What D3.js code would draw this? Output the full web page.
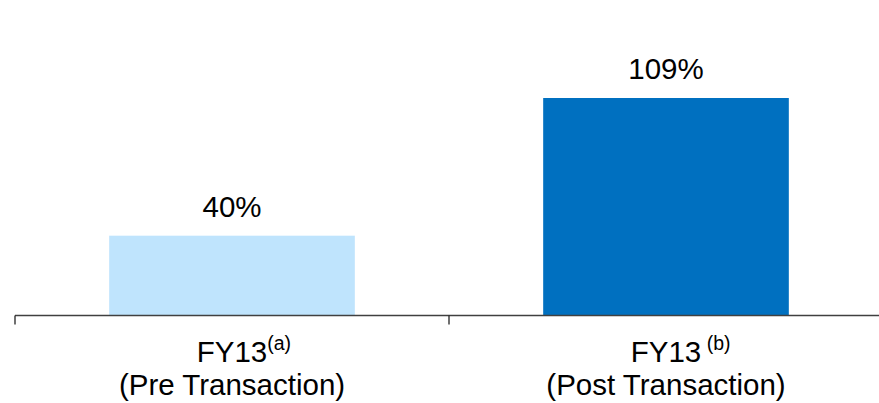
<!DOCTYPE html>
<html>
<head>
<meta charset="utf-8">
<script src="https://cdn.jsdelivr.net/npm/d3@7"></script>
<style>
  html, body { margin: 0; padding: 0; background: #fff; }
  svg { display: block; font-family: "Liberation Sans", Arial, sans-serif; }
</style>
</head>
<body>
<svg id="chart" width="879" height="403"></svg>
<script>
const categories = ["FY13", "FY13"];
const superscripts = ["(a)", " (b)"];
const subtitles = ["(Pre Transaction)", "(Post Transaction)"];
const values = [40, 109];
const valueLabels = ["40%", "109%"];
const barColors = ["#BFE4FD", "#0070C0"];

const svg = d3.select("#chart");
const baseY = 315.5;

const x = d3.scaleBand()
  .domain(d3.range(categories.length))
  .range([15, 883])
  .paddingInner(0.434)
  .paddingOuter(0.217);

const y = d3.scaleLinear()
  .domain([0, 109])
  .range([baseY, 98]);

// bars
svg.append("g").selectAll("rect")
  .data(values)
  .join("rect")
  .attr("x", (d, i) => x(i))
  .attr("width", x.bandwidth())
  .attr("y", d => y(d))
  .attr("height", d => baseY - y(d))
  .attr("fill", (d, i) => barColors[i]);

// value labels
svg.append("g").selectAll("text")
  .data(values)
  .join("text")
  .attr("x", (d, i) => x(i) + x.bandwidth() / 2)
  .attr("y", d => y(d) - 19)
  .attr("text-anchor", "middle")
  .attr("font-size", 29.5)
  .attr("fill", "#000")
  .text((d, i) => valueLabels[i]);

// axis line and ticks
const axis = svg.append("g");
axis.append("line")
  .attr("x1", 15).attr("x2", 879)
  .attr("y1", baseY).attr("y2", baseY)
  .attr("stroke", "#404040").attr("stroke-width", 1.3);
const tickXs = [x.range()[0], x(1) - x.step() * x.paddingInner() / 2];
axis.selectAll("line.tick")
  .data(tickXs)
  .join("line")
  .attr("class", "tick")
  .attr("x1", d => d).attr("x2", d => d)
  .attr("y1", baseY).attr("y2", baseY + 9)
  .attr("stroke", "#222").attr("stroke-width", 1.3);

// category labels
const labels = svg.append("g");
categories.forEach((c, i) => {
  const cx = x(i) + x.bandwidth() / 2;
  const t = labels.append("text")
    .attr("x", cx)
    .attr("y", 362)
    .attr("text-anchor", "middle")
    .attr("font-size", 29.5)
    .attr("fill", "#000")
    .text(c);
  const w = t.node().getComputedTextLength();
  labels.append("text")
    .attr("x", cx + w / 2)
    .attr("y", 350)
    .attr("font-size", 19.5)
    .attr("fill", "#000")
    .attr("xml:space", "preserve")
    .style("white-space", "pre")
    .text(superscripts[i]);
  labels.append("text")
    .attr("x", cx)
    .attr("y", 395)
    .attr("text-anchor", "middle")
    .attr("font-size", 29.5)
    .attr("fill", "#000")
    .text(subtitles[i]);
});
</script>
</body>
</html>
